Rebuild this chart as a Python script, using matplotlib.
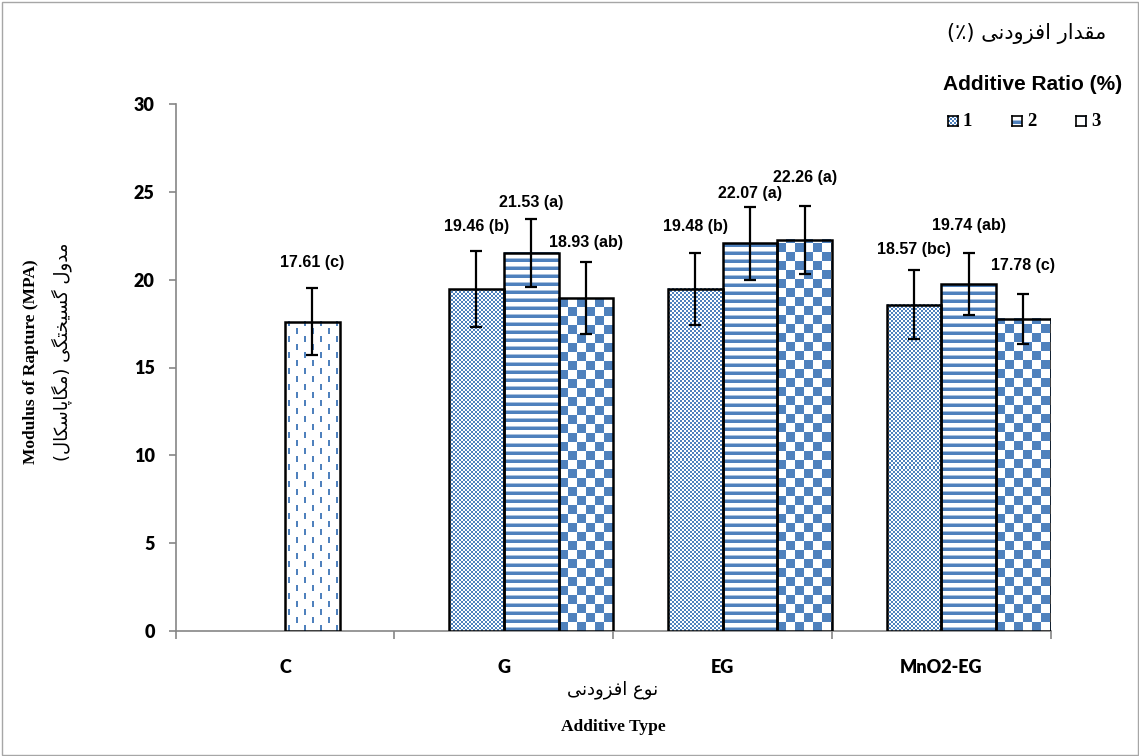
import numpy as np
import matplotlib
matplotlib.use("Agg")
import matplotlib.pyplot as plt
from matplotlib.patches import Rectangle

# ---------------------------------------------------------------- data
categories = ["C", "G", "EG", "MnO2-EG"]
ratio_names = ["1", "2", "3"]

control_value = 17.61
control_err = 1.90
control_group = "c"

ratio1 = [19.46, 19.48, 18.57]          # G, EG, MnO2-EG
ratio2 = [21.53, 22.07, 19.74]
ratio3 = [18.93, 22.26, 17.78]
ratio1_err = [2.15, 2.05, 1.97]
ratio2_err = [1.93, 2.07, 1.75]
ratio3_err = [2.05, 1.93, 1.43]
ratio1_groups = ["b", "b", "bc"]
ratio2_groups = ["a", "a", "ab"]
ratio3_groups = ["ab", "a", "c"]

# ---------------------------------------------------------------- layout
W, H = 1139, 756
BAR_W = 0.25
SERIES_OFFSET = [-0.125, 0.125, 0.375]
CONTROL_OFFSET = 0.125
LABEL_Y_CONTROL = 20.95
LABEL_Y = [[23.01, 23.00, 21.69],
           [24.38, 24.92, 23.07],
           [22.09, 25.83, 20.83]]

BLUE = np.array([0x4F, 0x81, 0xBD]) / 255.0
LIGHT = np.array([0xA9, 0xC1, 0xDE]) / 255.0
AXIS_GREY = "#868686"


def fx(x):
    return x / W


def fy(y):
    return 1 - y / H


# ---------------------------------------------------------------- persian text shaping
DUAL = set("مقفنیلگسختپکعبجحچشصضطظغهئ")
FORMS = {  # isolated, final, initial, medial
    "ا": (0xFE8D, 0xFE8E, None, None),
    "د": (0xFEA9, 0xFEAA, None, None),
    "ر": (0xFEAD, 0xFEAE, None, None),
    "ز": (0xFEAF, 0xFEB0, None, None),
    "و": (0xFEED, 0xFEEE, None, None),
    "م": (0xFEE1, 0xFEE2, 0xFEE3, 0xFEE4),
    "ق": (0xFED5, 0xFED6, 0xFED7, 0xFED8),
    "ف": (0xFED1, 0xFED2, 0xFED3, 0xFED4),
    "ن": (0xFEE5, 0xFEE6, 0xFEE7, 0xFEE8),
    "ی": (0xFBFC, 0xFBFD, 0xFBFE, 0xFBFF),
    "ل": (0xFEDD, 0xFEDE, 0xFEDF, 0xFEE0),
    "گ": (0xFB92, 0xFB93, 0xFB94, 0xFB95),
    "س": (0xFEB1, 0xFEB2, 0xFEB3, 0xFEB4),
    "خ": (0xFEA5, 0xFEA6, 0xFEA7, 0xFEA8),
    "ت": (0xFE95, 0xFE96, 0xFE97, 0xFE98),
    "پ": (0xFB56, 0xFB57, 0xFB58, 0xFB59),
    "ک": (0xFB8E, 0xFB8F, 0xFB90, 0xFB91),
    "ع": (0xFEC9, 0xFECA, 0xFECB, 0xFECC),
}


def rtl(text):
    out = []
    for i, ch in enumerate(text):
        if ch not in FORMS:
            out.append(ch)
            continue
        prev = text[i - 1] if i > 0 else ""
        nxt = text[i + 1] if i + 1 < len(text) else ""
        jp = prev in DUAL
        jn = ch in DUAL and nxt in FORMS
        iso, fin, ini, med = FORMS[ch]
        if jp and jn:
            code = med
        elif jp:
            code = fin
        elif jn:
            code = ini
        else:
            code = iso
        out.append(chr(code))
    vis = "".join(reversed(out))
    return vis.translate(str.maketrans("()", ")("))


# ---------------------------------------------------------------- fill patterns
def pattern(kind, h, w, phase=(0, 0)):
    yy, xx = np.mgrid[0:h, 0:w]
    xx = xx + phase[0]
    yy = yy + phase[1]
    img = np.ones((h, w, 3))
    if kind == "fine":
        img[((xx // 2 + yy // 2) % 2) == 0] = BLUE
    elif kind == "stripes":
        r = yy % 8
        img[r < 3] = BLUE
        img[r == 3] = LIGHT
    elif kind == "checker":
        img[((xx // 9 + yy // 9) % 2) == 0] = BLUE
    elif kind == "dashes":
        col = xx % 16
        row = yy % 16
        a = (col >= 3) & (col < 5) & (row < 6)
        b = (col >= 11) & (col < 13) & (row >= 8) & (row < 14)
        img[a | b] = BLUE
    return img


def fill_bars(ax, bars, kind):
    for rect in bars:
        x0, y0 = rect.get_x(), rect.get_y()
        bw, bh = rect.get_width(), rect.get_height()
        p0 = ax.transData.transform((x0, y0))
        p1 = ax.transData.transform((x0 + bw, y0 + bh))
        pw = max(1, int(round(p1[0] - p0[0])))
        ph = max(1, int(round(p1[1] - p0[1])))
        ax.imshow(pattern(kind, ph, pw), extent=(x0, x0 + bw, y0, y0 + bh),
                  origin="lower", interpolation="nearest", aspect="auto", zorder=2)


# ---------------------------------------------------------------- figure
fig = plt.figure(figsize=(W / 100, H / 100), dpi=100)
fig.patches.append(Rectangle((fx(1.5), fy(754.5)), (W - 3) / W, (H - 3) / H,
                             transform=fig.transFigure, fill=False,
                             edgecolor="#A6A6A6", lw=1.0))

ax = fig.add_axes([fx(175.7), fy(631), (1050.7 - 175.7) / W, (631 - 104) / H])
ax.set_xlim(0, len(categories))
ax.set_ylim(0, 30)

centers = np.arange(len(categories)) + 0.5
series = [ratio1, ratio2, ratio3]
errs = [ratio1_err, ratio2_err, ratio3_err]
groups = [ratio1_groups, ratio2_groups, ratio3_groups]
kinds = ["fine", "stripes", "checker"]

# control bar
cx = centers[0] + CONTROL_OFFSET
cbar = ax.bar([cx], [control_value], width=BAR_W, facecolor="none",
              edgecolor="black", linewidth=1.8, zorder=3)
fill_bars(ax, cbar, "dashes")
ax.errorbar([cx], [control_value], yerr=[control_err], fmt="none",
            ecolor="black", elinewidth=1.6, capsize=4.3, capthick=1.6, zorder=4)
ax.text(cx, LABEL_Y_CONTROL, f"{control_value:.2f} ({control_group})",
        ha="center", va="center", fontsize=11.5, fontweight="bold",
        family="Liberation Sans", zorder=5)

# additive bars
for s, (vals, err, grp, kind) in enumerate(zip(series, errs, groups, kinds)):
    xs = centers[1:] + SERIES_OFFSET[s]
    bars = ax.bar(xs, vals, width=BAR_W, facecolor="none", edgecolor="black",
                  linewidth=1.8, zorder=3)
    fill_bars(ax, bars, kind)
    ax.errorbar(xs, vals, yerr=err, fmt="none", ecolor="black",
                elinewidth=1.6, capsize=4.3, capthick=1.6, zorder=4)
    for x, v, g, ly in zip(xs, vals, grp, LABEL_Y[s]):
        ax.text(x, ly, f"{v:.2f} ({g})", ha="center", va="center",
                fontsize=11.5, fontweight="bold", family="Liberation Sans",
                zorder=5)

ax.set_xlim(0, len(categories))
ax.set_ylim(0, 30)

# axes styling
for side in ("top", "right"):
    ax.spines[side].set_visible(False)
for side in ("left", "bottom"):
    ax.spines[side].set_color(AXIS_GREY)
    ax.spines[side].set_linewidth(1.2)
    ax.spines[side].set_zorder(1)

ax.set_yticks(np.arange(0, 31, 5))
ax.tick_params(axis="y", direction="out", length=5, width=1.2, color=AXIS_GREY,
               pad=10, labelsize=13)
ax.set_xticks(np.arange(0, len(categories) + 1))
ax.set_xticklabels([])
ax.tick_params(axis="x", which="major", direction="out", length=6, width=1.2,
               color=AXIS_GREY)
ax.set_xticks(centers, minor=True)
ax.set_xticklabels(categories, minor=True)
ax.tick_params(axis="x", which="minor", length=0, pad=20, labelsize=13)
for lab in ax.get_yticklabels() + ax.get_xticklabels(minor=True):
    lab.set_fontfamily("Lato")
    lab.set_fontweight("heavy")

# axis titles
fig.text(fx(31), fy(362), "Modulus of Rapture (MPA)", rotation=90,
         ha="center", va="center", fontsize=12.5, fontweight="bold",
         family="Liberation Serif")
fig.text(fx(62), fy(352), rtl("مدول گسیختگی (مگاپاسکال)"), rotation=90,
         ha="center", va="center", fontsize=13, family="DejaVu Sans")
fig.text(fx(613), fy(690), rtl("نوع افزودنی"), ha="center", va="center",
         fontsize=13, family="DejaVu Sans")
fig.text(fx(613), fy(727), "Additive Type", ha="center", va="center",
         fontsize=12.5, fontweight="bold", family="Liberation Serif")

# legend
fig.text(fx(1106), fy(33), rtl("مقدار افزودنی (٪)"), ha="right", va="center",
         fontsize=15, family="DejaVu Sans")
fig.text(fx(1122), fy(84), "Additive Ratio (%)", ha="right", va="center",
         fontsize=15, fontweight="bold", family="Liberation Sans")
legend_x = [948, 1012, 1076]
legend_phase = [(0, 0), (0, 6), (0, 9)]
for name, kind, lx, ph in zip(ratio_names, kinds, legend_x, legend_phase):
    lax = fig.add_axes([fx(lx), fy(126), 10 / W, 10 / H])
    lax.imshow(pattern(kind, 10, 10, ph), origin="lower",
               interpolation="nearest", aspect="auto")
    lax.set_xticks([])
    lax.set_yticks([])
    for sp in lax.spines.values():
        sp.set_color("black")
        sp.set_linewidth(1.2)
    fig.text(fx(lx + 15), fy(121), name, ha="left", va="center",
             fontsize=13.5, fontweight="bold", family="Liberation Serif")

fig.savefig("out.png", dpi=100)
